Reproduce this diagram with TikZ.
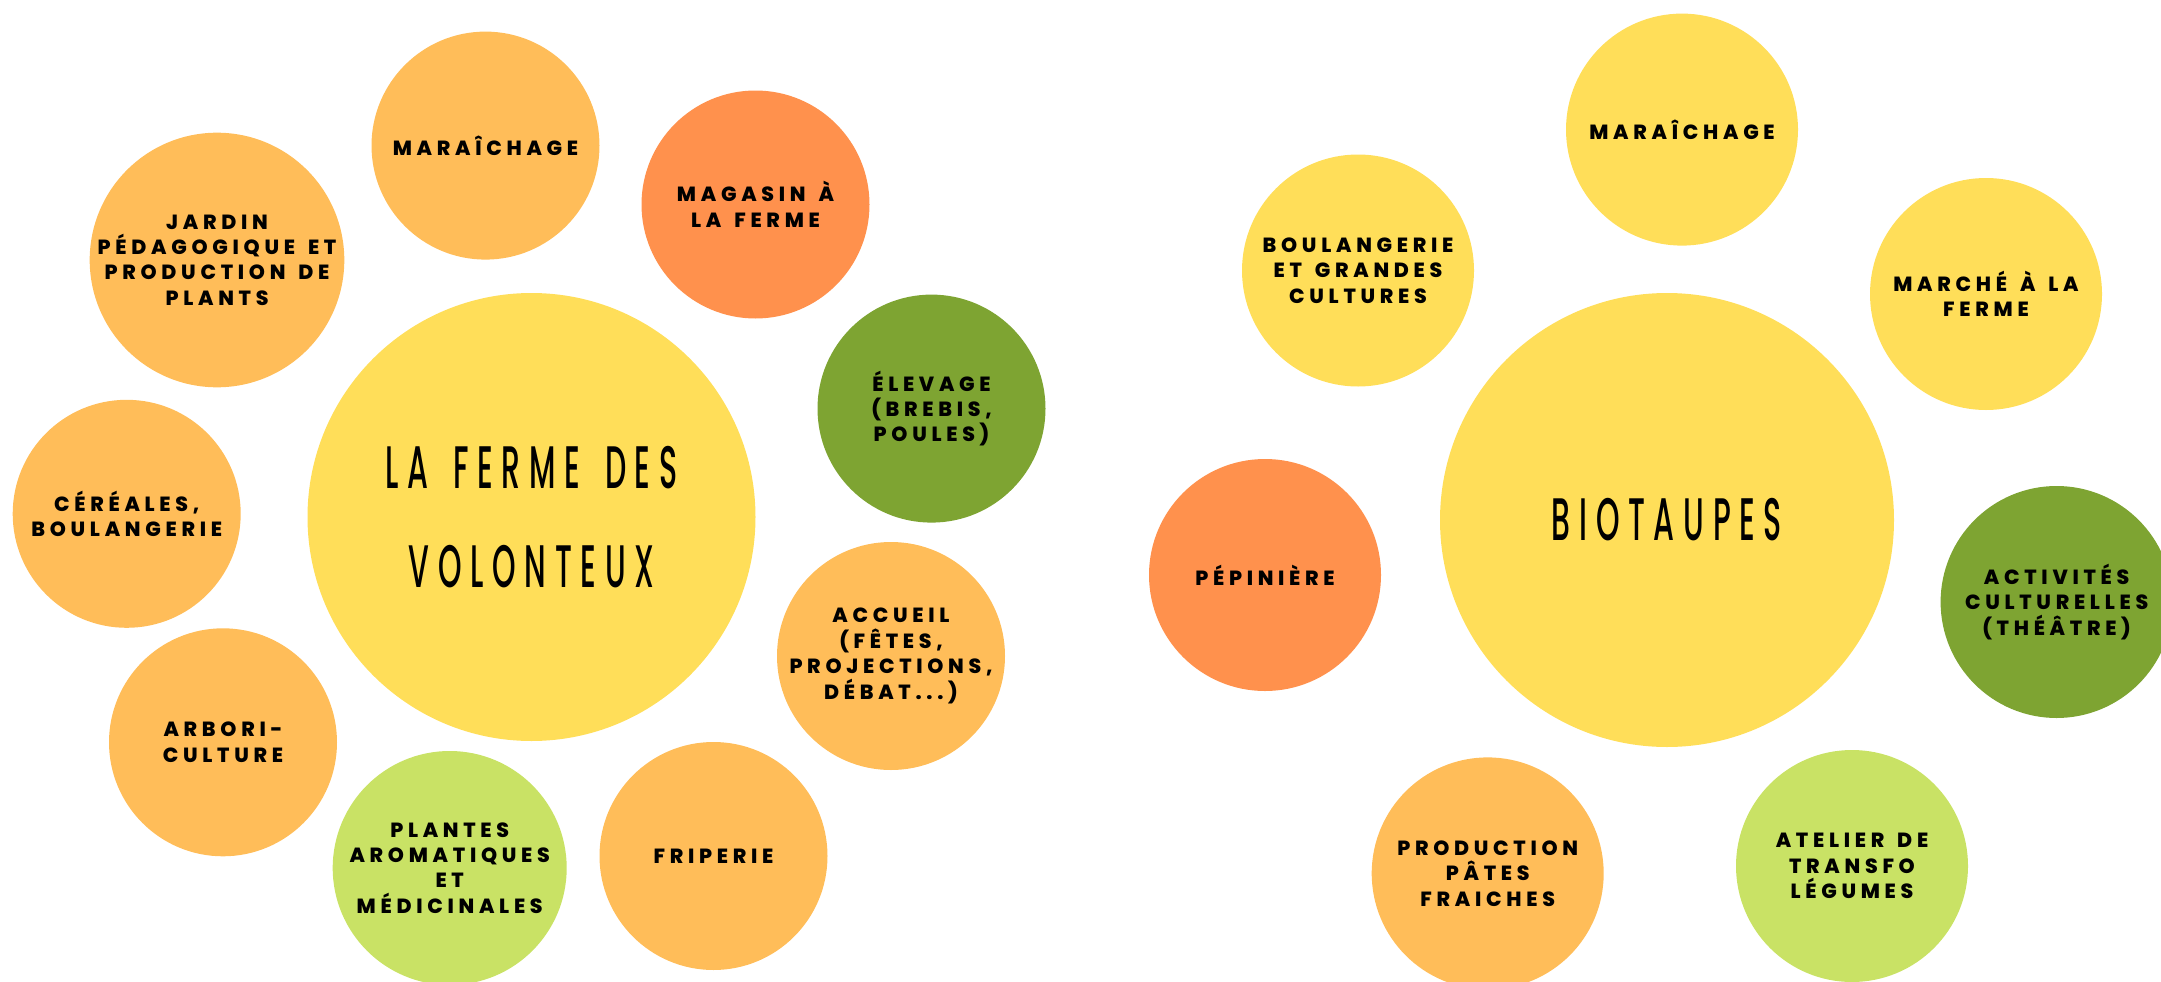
\documentclass[tikz,border=0pt]{standalone}
\usepackage{fontspec}
\newfontfamily\labfont[LetterSpace=23,WordSpace=1.5]{Poppins ExtraBold}
\newfontfamily\ttlfont[FakeStretch=0.5,LetterSpace=14.5,WordSpace=1.5]{Poppins Medium}
\definecolor{cyel}{HTML}{FFDE59}
\definecolor{clor}{HTML}{FFBD59}
\definecolor{corg}{HTML}{FF914D}
\definecolor{cgrn}{HTML}{7EA432}
\definecolor{clgr}{HTML}{C9E265}
\tikzset{
  bub/.style={circle, draw=none, inner sep=0pt, align=center, text=black,
    font={\labfont\fontsize{20.5}{25.4}\selectfont}},
  bigbub/.style={circle, draw=none, inner sep=0pt, align=center, text=black,
    font={\ttlfont\fontsize{60}{99}\selectfont}},
  rs/.style={minimum size=228pt},
  rm/.style={minimum size=232pt},
}
\begin{document}
\begin{tikzpicture}[x=1pt,y=-1pt]
\useasboundingbox (0,0) rectangle (2161,982);
\clip (0,0) rectangle (2161,982);
% left group
\node[bigbub, fill=cyel, minimum size=448pt] (bigL) at (531.5,517) {LA FERME DES\\VOLONTEUX};
\node[bub, rs, fill=clor] (marL) at (485.5,145.6) {MARAÎCHAGE};
\node[bub, rs, fill=corg] (mag) at (755.5,204.5) {MAGASIN À\\LA FERME};
\node[bub, fill=clor, minimum size=248pt] (jar) at (217,260) {JARDIN\\PÉDAGOGIQUE ET\\PRODUCTION DE\\PLANTS};
\node[bub, rs, fill=cgrn] (ele) at (931.5,408.6) {ÉLEVAGE\\(BREBIS,\\POULES)};
\node[bub, rs, fill=clor] (cer) at (126.7,513.8) {CÉRÉALES,\\BOULANGERIE};
\node[bub, rs, fill=clor] (acc) at (891,656) {ACCUEIL\\(FÊTES,\\PROJECTIONS,\\DÉBAT...)};
\node[bub, rs, fill=clor] (arb) at (223,742.3) {ARBORI-\\CULTURE};
\node[bub, fill=clgr, minimum size=234pt] (pla) at (449.7,868) {PLANTES\\AROMATIQUES\\ET\\MÉDICINALES};
\node[bub, rs, fill=clor] (fri) at (713.5,856) {FRIPERIE};
% right group
\node[bigbub, fill=cyel, minimum size=454pt] (bigR) at (1667,520) {BIOTAUPES};
\node[bub, rm, fill=cyel] (marR) at (1682,129.6) {MARAÎCHAGE};
\node[bub, rm, fill=cyel] (bou) at (1358,270.5) {BOULANGERIE\\ET GRANDES\\CULTURES};
\node[bub, rm, fill=cyel] (mch) at (1986,294) {MARCHÉ À LA\\FERME};
\node[bub, rm, fill=corg] (pep) at (1265,575) {PÉPINIÈRE};
\node[bub, rm, fill=cgrn] (act) at (2056.6,602) {ACTIVITÉS\\CULTURELLES\\(THÉÂTRE)};
\node[bub, rm, fill=clor] (pro) at (1487.7,873.4) {PRODUCTION\\PÂTES\\FRAICHES};
\node[bub, rm, fill=clgr] (ate) at (1852,866) {ATELIER DE\\TRANSFO\\LÉGUMES};
\end{tikzpicture}
\end{document}
